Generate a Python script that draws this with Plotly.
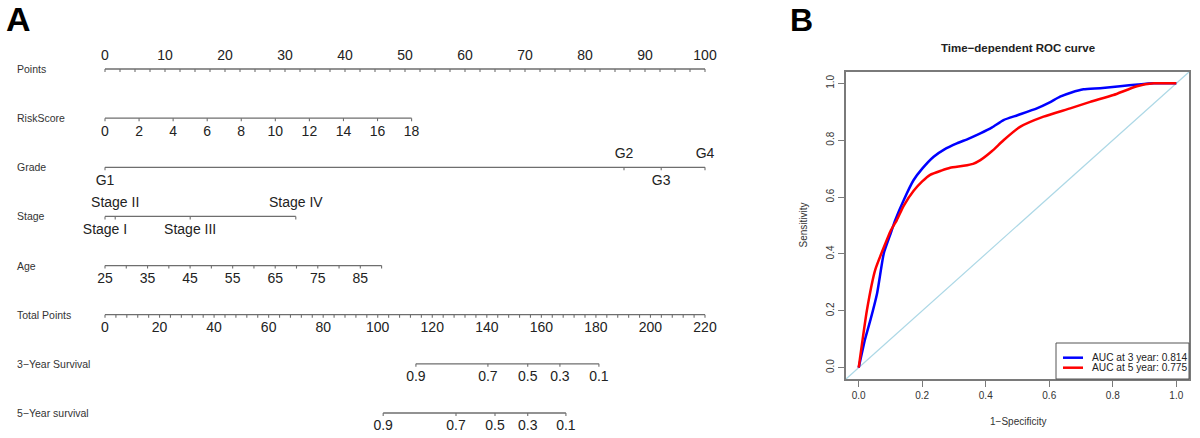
import plotly.graph_objects as go
import numpy as np

# ---------------- Data: nomogram ----------------
points_labels = [0, 10, 20, 30, 40, 50, 60, 70, 80, 90, 100]
points_minor_step = 2.5

riskscore_labels = [0, 2, 4, 6, 8, 10, 12, 14, 16, 18]
riskscore_points_per_unit = 51.1 / 18

grade_levels = ["G1", "G2", "G3", "G4"]
grade_points = [0, 86.5, 92.7, 100]
grade_side = ["below", "above", "below", "above"]

stage_levels = ["Stage I", "Stage II", "Stage III", "Stage IV"]
stage_points = [0, 1.7, 14.2, 31.8]
stage_side = ["below", "above", "below", "above"]

age_labels = [25, 35, 45, 55, 65, 75, 85]
age_min, age_max = 25, 90
age_points_at_max = 46.1
age_tick_step = 5

total_labels = [0, 20, 40, 60, 80, 100, 120, 140, 160, 180, 200, 220]
total_max = 220
total_tick_step = 4

surv3_labels = ["0.9", "0.7", "0.5", "0.3", "0.1"]
surv3_total = [114.0, 140.4, 155.0, 166.8, 181.1]

surv5_labels = ["0.9", "0.7", "0.5", "0.3", "0.1"]
surv5_total = [102.0, 128.7, 143.0, 155.0, 169.0]

row_names = ["Points", "RiskScore", "Grade", "Stage", "Age", "Total Points",
             "3\u2212Year Survival", "5\u2212Year survival"]

# ---------------- Data: ROC ----------------
fpr3 = [0, 0.02, 0.037, 0.058, 0.079, 0.1, 0.115, 0.142, 0.173, 0.2, 0.236, 0.27,
        0.309, 0.345, 0.383, 0.42, 0.456, 0.5, 0.561, 0.6, 0.634, 0.67, 0.708,
        0.76, 0.823, 0.88, 0.928, 1.0]
tpr3 = [0, 0.1, 0.168, 0.262, 0.402, 0.47, 0.519, 0.59, 0.66, 0.70, 0.742, 0.768,
        0.789, 0.805, 0.824, 0.845, 0.871, 0.888, 0.912, 0.932, 0.953, 0.968, 0.979,
        0.983, 0.990, 0.996, 1.0, 1.0]
fpr5 = [0, 0.026, 0.052, 0.084, 0.1, 0.12, 0.142, 0.173, 0.2, 0.225, 0.26, 0.288,
        0.33, 0.36, 0.383, 0.42, 0.456, 0.508, 0.582, 0.666, 0.729, 0.802, 0.876,
        0.93, 1.0]
tpr5 = [0, 0.203, 0.344, 0.437, 0.48, 0.519, 0.57, 0.622, 0.655, 0.678, 0.693, 0.703,
        0.71, 0.717, 0.73, 0.762, 0.80, 0.847, 0.883, 0.912, 0.935, 0.959, 0.990,
        1.0, 1.0]
auc_names = ["AUC at 3 year: 0.814", "AUC at 5 year: 0.775"]
roc_colors = ["#0000ff", "#ff0000"]
roc_ticks = [0, 0.2, 0.4, 0.6, 0.8, 1.0]

# ---------------- Layout helpers ----------------
W, H = 1200, 438
ROW0_PX, ROW_GAP_PX = 69, 49.14
PX_PER_POINT = 6.0
X0_PX = 105
FONT = "Liberation Sans, Arial, sans-serif"
LINE_COL = "#6e6e6e"
TXT_COL = "#222222"

def px2row(px):
    return px / ROW_GAP_PX

fig = go.Figure()

def draw_scale(row, line_from, line_to, tick_pts, label_pts, labels, sides):
    fig.add_trace(go.Scatter(x=[line_from, line_to], y=[row, row], mode="lines",
                             line=dict(color=LINE_COL, width=1.3),
                             xaxis="x", yaxis="y", showlegend=False, hoverinfo="skip"))
    tx, ty = [], []
    for p in tick_pts:
        tx += [p, p, None]
        ty += [row, row + px2row(3), None]
    fig.add_trace(go.Scatter(x=tx, y=ty, mode="lines",
                             line=dict(color=LINE_COL, width=1.1),
                             xaxis="x", yaxis="y", showlegend=False, hoverinfo="skip"))
    ly = [row - px2row(12.5) if s == "above" else row + px2row(14) for s in sides]
    fig.add_trace(go.Scatter(x=label_pts, y=ly, mode="text", text=labels,
                             textposition="middle center",
                             textfont=dict(size=14, color=TXT_COL, family=FONT),
                             xaxis="x", yaxis="y", showlegend=False, hoverinfo="skip"))

# Row 0: Points
pts_minor = list(np.arange(0, 100 + 1e-9, points_minor_step))
draw_scale(0, 0, 100, pts_minor, points_labels, [str(v) for v in points_labels],
           ["above"] * len(points_labels))

# Row 1: RiskScore
rs_pts = [v * riskscore_points_per_unit for v in riskscore_labels]
draw_scale(1, 0, rs_pts[-1], rs_pts, rs_pts, [str(v) for v in riskscore_labels],
           ["below"] * len(rs_pts))

# Row 2: Grade
draw_scale(2, min(grade_points), max(grade_points), grade_points, grade_points,
           grade_levels, grade_side)

# Row 3: Stage
draw_scale(3, min(stage_points), max(stage_points), stage_points, stage_points,
           stage_levels, stage_side)

# Row 4: Age
def age2pts(a):
    return (a - age_min) / (age_max - age_min) * age_points_at_max
age_ticks = [age2pts(a) for a in range(age_min, age_max + 1, age_tick_step)]
draw_scale(4, 0, age2pts(age_max), age_ticks, [age2pts(a) for a in age_labels],
           [str(a) for a in age_labels], ["below"] * len(age_labels))

# Row 5: Total points
def tot2pts(t):
    return t * 100.0 / total_max
tot_ticks = [tot2pts(t) for t in range(0, total_max + 1, total_tick_step)]
draw_scale(5, 0, 100, tot_ticks, [tot2pts(t) for t in total_labels],
           [str(t) for t in total_labels], ["below"] * len(total_labels))

# Row 6, 7: survival
s3 = [tot2pts(t) for t in surv3_total]
draw_scale(6, min(s3), max(s3), s3, s3, surv3_labels, ["below"] * len(s3))
s5 = [tot2pts(t) for t in surv5_total]
draw_scale(7, min(s5), max(s5), s5, s5, surv5_labels, ["below"] * len(s5))

# ---------------- ROC ----------------
for fx, ty_, nm, col in [(fpr3, tpr3, auc_names[0], roc_colors[0]),
                         (fpr5, tpr5, auc_names[1], roc_colors[1])]:
    fig.add_trace(go.Scatter(x=fx, y=ty_, mode="lines", name=nm,
                             line=dict(color=col, width=2.5, shape="spline", smoothing=0.5),
                             xaxis="x2", yaxis="y2", showlegend=False))

fig.add_shape(type="line", xref="x2 domain", yref="y2 domain", x0=0, y0=0, x1=1, y1=1,
              line=dict(color="#add8e6", width=1.2), layer="below")

x_left_px = 60
x_right_px = 760
nomo_range = [(x_left_px - X0_PX) / PX_PER_POINT, (x_right_px - X0_PX) / PX_PER_POINT]
row_top = -ROW0_PX / ROW_GAP_PX
row_bot = (H - ROW0_PX) / ROW_GAP_PX

roc_l, roc_r, roc_t, roc_b = 846, 1189, 72, 379

# manual legend box (R style)
leg_l, leg_t = 1056, 343
fig.add_shape(type="rect", xref="paper", yref="paper",
              x0=leg_l / W, x1=roc_r / W, y0=1 - roc_b / H, y1=1 - leg_t / H,
              line=dict(color="#555555", width=1), fillcolor="white", layer="above")
annotations = []
for i, (nm, col) in enumerate(zip(auc_names, roc_colors)):
    yy = 1 - (357.7 + 10 * i) / H
    fig.add_shape(type="line", xref="paper", yref="paper",
                  x0=1063 / W, x1=1083 / W, y0=yy, y1=yy,
                  line=dict(color=col, width=2.5), layer="above")
    annotations.append(dict(text=nm, x=1090 / W, y=yy, xref="paper", yref="paper",
                            xanchor="left", yanchor="middle", showarrow=False,
                            font=dict(size=10.2, color="#222222", family=FONT)))

for i, name in enumerate(row_names):
    annotations.append(dict(text=name, x=15 / W, y=1 - (ROW0_PX + i * ROW_GAP_PX) / H,
                            xref="paper", yref="paper", xanchor="left", yanchor="middle",
                            showarrow=False, font=dict(size=10.5, color="#333333", family=FONT)))
annotations += [
    dict(text="<b>A</b>", x=4 / W, y=1 - 19 / H, xref="paper", yref="paper",
         xanchor="left", yanchor="middle", showarrow=False,
         font=dict(size=34, color="#000000", family=FONT)),
    dict(text="<b>B</b>", x=788 / W, y=1 - 20 / H, xref="paper", yref="paper",
         xanchor="left", yanchor="middle", showarrow=False,
         font=dict(size=32, color="#000000", family=FONT)),
    dict(text="<b>Time\u2212dependent ROC curve</b>", x=(roc_l + roc_r) / 2 / W, y=1 - 48 / H,
         xref="paper", yref="paper", xanchor="center", yanchor="middle", showarrow=False,
         font=dict(size=11.5, color="#222222", family=FONT)),
    dict(text="1\u2212Specificity", x=(roc_l + roc_r) / 2 / W, y=1 - 421 / H,
         xref="paper", yref="paper", xanchor="center", yanchor="middle", showarrow=False,
         font=dict(size=10, color="#333333", family=FONT)),
    dict(text="Sensitivity", x=803 / W, y=1 - ((roc_t + roc_b) / 2) / H, textangle=-90,
         xref="paper", yref="paper", xanchor="center", yanchor="middle", showarrow=False,
         font=dict(size=10, color="#333333", family=FONT)),
]

roc_axis = dict(range=[-0.04, 1.04], showgrid=False, zeroline=False, showline=True,
                mirror=True, linecolor="#7a7a7a", linewidth=1.5, ticks="outside",
                ticklen=6, tickcolor="#7a7a7a", tickwidth=1.2,
                tickvals=roc_ticks, ticktext=["%.1f" % v for v in roc_ticks],
                tickfont=dict(size=10, color="#333333", family=FONT))

fig.update_layout(
    width=W, height=H, margin=dict(l=0, r=0, t=0, b=0),
    paper_bgcolor="white", plot_bgcolor="white",
    xaxis=dict(domain=[x_left_px / W, x_right_px / W], range=nomo_range, visible=False),
    yaxis=dict(domain=[0, 1], range=[row_bot, row_top], visible=False),
    xaxis2=dict(domain=[roc_l / W, roc_r / W], anchor="y2", **roc_axis),
    yaxis2=dict(domain=[1 - roc_b / H, 1 - roc_t / H], anchor="x2", tickangle=-90, **roc_axis),
    showlegend=False,
    annotations=annotations,
)

fig.write_html("out.html", config={"displayModeBar": False},
               post_script="document.body.style.margin='0';document.body.style.overflow='hidden';")
